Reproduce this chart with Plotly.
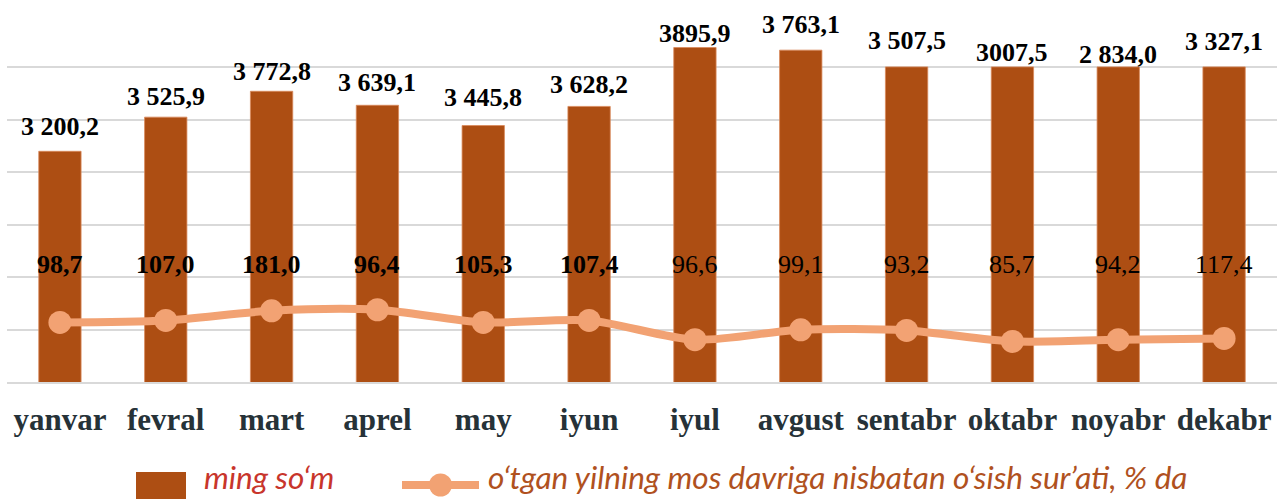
import plotly.graph_objects as go

# ---------------- data ----------------
months = ["yanvar", "fevral", "mart", "aprel", "may", "iyun",
          "iyul", "avgust", "sentabr", "oktabr", "noyabr", "dekabr"]

# bar heights as drawn in the picture (primary axis, ming so'm)
bar_values = [3200.2, 3525.9, 3772.8, 3639.1, 3445.8, 3628.2,
              4190.0, 4165.0, 4005.0, 4005.0, 4005.0, 4005.0]
# bar data labels as printed
bar_labels = ["3 200,2", "3 525,9", "3 772,8", "3 639,1", "3 445,8", "3 628,2",
              "3895,9", "3 763,1", "3 507,5", "3007,5", "2 834,0", "3 327,1"]

# growth-rate line as drawn (secondary axis, arbitrary drawing scale)
line_values = [56.8, 58.7, 67.9, 68.9, 56.8, 58.7,
               40.3, 49.8, 49.2, 38.7, 40.3, 41.5]
# growth-rate labels as printed (% of same period last year)
line_labels = ["98,7", "107,0", "181,0", "96,4", "105,3", "107,4",
               "96,6", "99,1", "93,2", "85,7", "94,2", "117,4"]
line_label_bold = [True, True, True, True, True, True,
                   False, False, False, False, False, False]

bar_name = "ming so\u2018m"
line_name = "o\u2018tgan yilning mos davriga nisbatan o\u2018sish sur\u2019ati, % da"

# ---------------- style ----------------
W, H = 1277, 499
ML, MR, MT, MB = 7, 0, 15, 117
PW, PH = W - ML - MR, H - MT - MB

BAR_COLOR = "#AD4E13"
LINE_COLOR = "#F2A273"
GRID = "#D9D9D9"
SERIF = "Liberation Serif, Times New Roman, serif"
LEG_FONT = "Lato, Open Sans, sans-serif"

# per-label vertical offset (pixels above bar top) of the bar labels
bar_label_dy = [25, 21, 20, 23, 28, 22, 14, 26, 26, 14, 12, 25]


def px_x(p):
    return (p - ML) / PW


def px_y(p):
    return (H - MB - p) / PH


fig = go.Figure()

fig.add_trace(go.Bar(
    x=months, y=bar_values, name=bar_name,
    marker=dict(color=BAR_COLOR, line=dict(color="#D9895A", width=0.8)),
    showlegend=False, hoverinfo="skip",
))

fig.add_trace(go.Scatter(
    x=months, y=line_values, name=line_name, yaxis="y2",
    mode="lines+markers",
    line=dict(color=LINE_COLOR, width=8, shape="spline", smoothing=0.8),
    marker=dict(color=LINE_COLOR, size=23),
    showlegend=False, hoverinfo="skip",
))

annotations = []
for m, v, t, dy in zip(months, bar_values, bar_labels, bar_label_dy):
    annotations.append(dict(
        x=m, y=v, xref="x", yref="y", text=t, showarrow=False,
        yanchor="middle", yshift=dy,
        font=dict(family=SERIF, size=26, color="#000000", weight="bold"),
    ))

for m, t, b in zip(months, line_labels, line_label_bold):
    annotations.append(dict(
        x=m, y=px_y(264), xref="x", yref="paper", text=t, showarrow=False,
        yanchor="middle",
        font=dict(family=SERIF, size=26, color="#000000",
                  weight="bold" if b else "normal"),
    ))

# custom legend
LEG_SIZE = 31.5
annotations.append(dict(
    x=px_x(202), y=px_y(477), xref="paper", yref="paper", text=bar_name,
    showarrow=False, xanchor="left", yanchor="middle",
    font=dict(family=LEG_FONT, size=LEG_SIZE, color="#C8352B", style="italic"),
))
annotations.append(dict(
    x=px_x(486), y=px_y(477), xref="paper", yref="paper", text=line_name,
    showarrow=False, xanchor="left", yanchor="middle",
    font=dict(family=LEG_FONT, size=LEG_SIZE, color="#B0511E", style="italic"),
))

shapes = [
    dict(type="rect", xref="paper", yref="paper",
         x0=px_x(136), x1=px_x(186), y0=px_y(512), y1=px_y(472),
         fillcolor=BAR_COLOR, line=dict(width=0)),
    dict(type="line", xref="paper", yref="paper",
         x0=px_x(402), x1=px_x(479), y0=px_y(485), y1=px_y(485),
         line=dict(color=LINE_COLOR, width=8)),
    dict(type="circle", xref="paper", yref="paper",
         x0=px_x(429), x1=px_x(452), y0=px_y(496.5), y1=px_y(473.5),
         fillcolor=LINE_COLOR, line=dict(width=0)),
]

fig.update_layout(
    width=W, height=H,
    margin=dict(l=ML, r=MR, t=MT, b=MB, pad=0),
    paper_bgcolor="white", plot_bgcolor="white",
    bargap=0.6,
    xaxis=dict(
        type="category", range=[-0.5, len(months) - 0.5],
        showgrid=False, ticks="",
        showline=True, linecolor=GRID, linewidth=2,
        tickfont=dict(family=SERIF, size=31, color="#263238", weight="bold"),
        ticklabelstandoff=9,
    ),
    yaxis=dict(
        range=[1000, 4500], dtick=500, tick0=1000,
        showticklabels=False, ticks="",
        showgrid=True, gridcolor=GRID, gridwidth=2, zeroline=False,
    ),
    yaxis2=dict(
        range=[0, 350], overlaying="y", side="right",
        showgrid=False, showticklabels=False, zeroline=False, ticks="",
    ),
    annotations=annotations,
    shapes=shapes,
    showlegend=False,
)

fig.write_html("out.html", config={"displayModeBar": False},
               post_script="document.body.style.margin='0';")
